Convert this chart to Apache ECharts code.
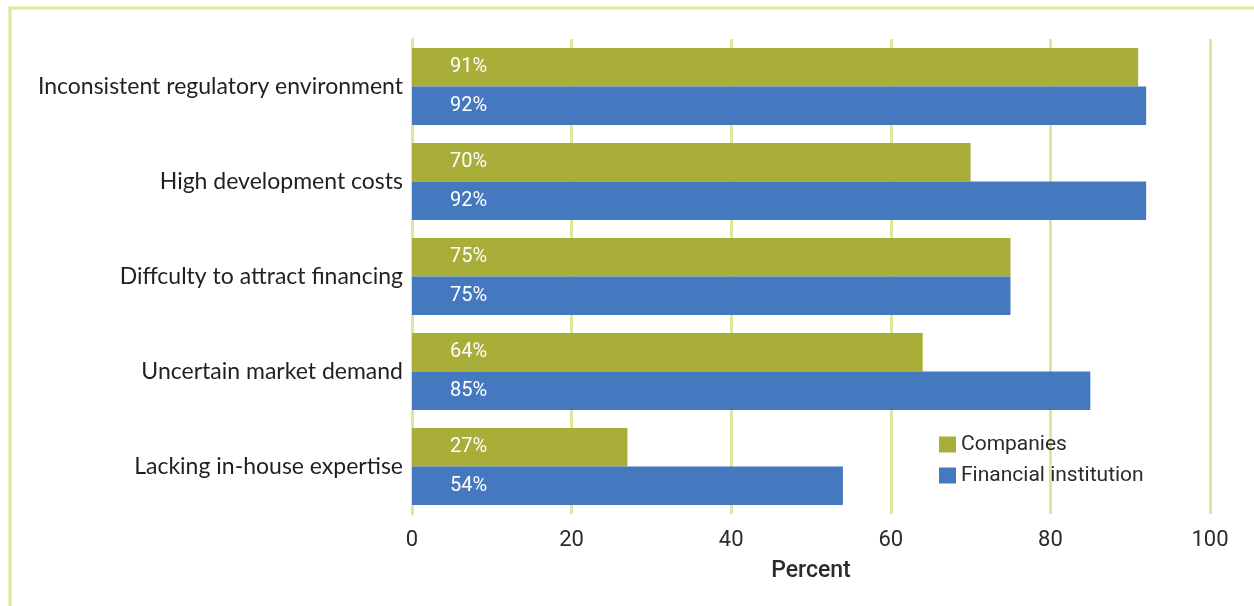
<!DOCTYPE html>
<html>
<head>
<meta charset="utf-8">
<script src="https://cdn.jsdelivr.net/npm/echarts@6/dist/echarts.min.js"></script>
<style>
  html, body { margin: 0; padding: 0; background: #ffffff; }
  #chart { width: 1254px; height: 606px; }
</style>
</head>
<body>
<div id="chart"></div>
<script>
// Barriers reported, share of respondents (percent)
const categories = [
  'Inconsistent regulatory environment',
  'High development costs',
  'Diffculty to attract financing',
  'Uncertain market demand',
  'Lacking in-house expertise'
];
const seriesNames = ['Companies', 'Financial institution'];
const companies = [91, 70, 75, 64, 27];
const financialInstitution = [92, 92, 75, 85, 54];
const xTicks = [0, 20, 40, 60, 80, 100];

const GREEN = '#a9ae38';
const BLUE = '#4579bf';
const GRID = '#dce99a';

const chart = echarts.init(document.getElementById('chart'), null, { renderer: 'canvas' });

const valueLabel = {
  show: true,
  position: [38, '50%'],
  verticalAlign: 'middle',
  align: 'left',
  color: '#ffffff',
  fontFamily: 'Roboto',
  fontSize: 20,
  padding: [2, 0, 0, 0],
  formatter: p => p.value + '%'
};

chart.setOption({
  animation: false,
  backgroundColor: '#ffffff',
  graphic: [{
    type: 'rect',
    shape: { x: 10, y: 8, width: 1400, height: 800 },
    style: { fill: 'none', stroke: GRID, lineWidth: 3 },
    silent: true,
    z: -1
  }],
  grid: { left: 412, right: 44, top: 39, bottom: 92 },
  legend: {
    orient: 'vertical',
    left: 934,
    top: 429,
    itemWidth: 17,
    itemHeight: 16,
    itemGap: 10,
    icon: 'rect',
    textStyle: { fontFamily: 'Roboto', fontSize: 21, color: '#2b2b2b' },
    data: seriesNames
  },
  xAxis: {
    type: 'value',
    min: xTicks[0],
    max: xTicks[xTicks.length - 1],
    interval: 20,
    name: 'Percent',
    nameLocation: 'middle',
    nameGap: 46,
    nameTextStyle: { fontFamily: 'Roboto', fontSize: 23, fontWeight: 500, color: '#2b2b2b' },
    axisLine: { show: false },
    axisTick: { show: false },
    axisLabel: { fontFamily: 'Roboto', fontSize: 22, color: '#2b2b2b', margin: 15 },
    splitLine: { show: true, lineStyle: { color: GRID, width: 3 } }
  },
  yAxis: {
    type: 'category',
    inverse: true,
    data: categories,
    axisLine: { show: true, lineStyle: { color: GRID, width: 3 } },
    axisTick: { show: false },
    axisLabel: { fontFamily: 'Lato', fontSize: 23, color: '#231f20', margin: 9, padding: [8, 0, 0, 0] }
  },
  series: [
    {
      name: seriesNames[0],
      type: 'bar',
      data: companies,
      barGap: '0%',
      barCategoryGap: '19%',
      itemStyle: { color: GREEN },
      label: valueLabel
    },
    {
      name: seriesNames[1],
      type: 'bar',
      data: financialInstitution,
      barGap: '0%',
      barCategoryGap: '19%',
      itemStyle: { color: BLUE },
      label: valueLabel
    }
  ]
});
</script>
</body>
</html>
